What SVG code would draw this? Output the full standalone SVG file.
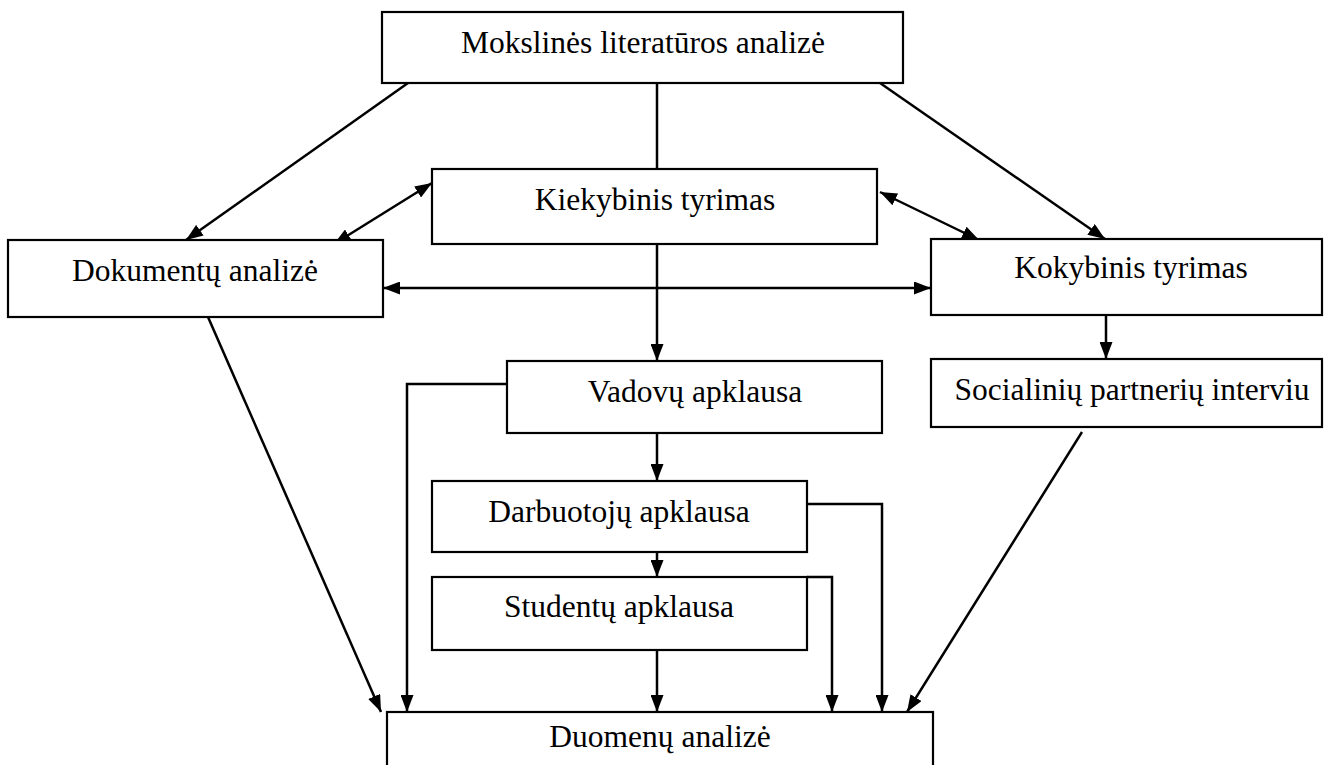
<svg xmlns="http://www.w3.org/2000/svg" width="1324" height="765" viewBox="0 0 1324 765">
  <defs>
    <marker id="arrow" viewBox="0 0 17 13" refX="17" refY="6.5" markerWidth="17" markerHeight="13" markerUnits="userSpaceOnUse" orient="auto-start-reverse">
      <path d="M0,0 L17,6.5 L0,13 Z" fill="#000"/>
    </marker>
    <style>
      .box { fill: #fff; stroke: #000; stroke-width: 2.2; }
      .lbl { font-family: "Liberation Serif", "Times New Roman", serif; font-size: 31.5px; fill: #000; text-anchor: middle; }
      .ln { fill: none; stroke: #000; stroke-width: 2.5; }
      .ar { fill: none; stroke: #000; stroke-width: 2.5; marker-end: url(#arrow); }
      .ar2 { fill: none; stroke: #000; stroke-width: 2.5; marker-start: url(#arrow); marker-end: url(#arrow); }
    </style>
  </defs>
  <rect width="1324" height="765" fill="#fff"/>

  <g id="connectors">
    <!-- from the literature analysis -->
    <line class="ar" x1="408" y1="83" x2="186" y2="240"/>
    <line class="ln" x1="657" y1="83" x2="657" y2="169"/>
    <line class="ar" x1="880" y1="83" x2="1105" y2="239"/>
    <!-- links between the three studies -->
    <line class="ar2" x1="432" y1="183" x2="334" y2="244"/>
    <line class="ar2" x1="880" y1="192" x2="979" y2="240"/>
    <line class="ar2" x1="383" y1="288" x2="931" y2="288"/>
    <!-- survey chain -->
    <line class="ar" x1="657" y1="244" x2="657" y2="361"/>
    <line class="ar" x1="657" y1="433" x2="657" y2="481"/>
    <line class="ar" x1="657" y1="552" x2="657" y2="577"/>
    <line class="ar" x1="1106" y1="313" x2="1106" y2="359"/>
    <!-- into data analysis -->
    <line class="ar" x1="208" y1="317" x2="381" y2="712"/>
    <polyline class="ar" points="507,384 407,384 407,712"/>
    <line class="ar" x1="657" y1="650" x2="657" y2="712"/>
    <polyline class="ar" points="807,577 832,577 832,712"/>
    <polyline class="ar" points="807,504 882,504 882,712"/>
    <line class="ar" x1="1082" y1="432" x2="907" y2="712"/>
  </g>

  <g id="n-literatura">
    <rect class="box" x="382" y="12" width="521" height="71"/>
    <text class="lbl" x="643" y="53">Mokslinės literatūros analizė</text>
  </g>
  <g id="n-kiekybinis">
    <rect class="box" x="432" y="169" width="445" height="75"/>
    <text class="lbl" x="655" y="210">Kiekybinis tyrimas</text>
  </g>
  <g id="n-dokumentu">
    <rect class="box" x="8" y="240" width="375" height="77"/>
    <text class="lbl" x="195" y="281">Dokumentų analizė</text>
  </g>
  <g id="n-kokybinis">
    <rect class="box" x="931" y="239" width="391" height="76"/>
    <text class="lbl" x="1131" y="278">Kokybinis tyrimas</text>
  </g>
  <g id="n-vadovu">
    <rect class="box" x="507" y="361" width="375" height="72"/>
    <text class="lbl" x="695" y="402">Vadovų apklausa</text>
  </g>
  <g id="n-socialiniu">
    <rect class="box" x="931" y="359" width="391" height="68"/>
    <text class="lbl" x="1132" y="400">Socialinių partnerių interviu</text>
  </g>
  <g id="n-darbuotoju">
    <rect class="box" x="432" y="481" width="375" height="71"/>
    <text class="lbl" x="619" y="522">Darbuotojų apklausa</text>
  </g>
  <g id="n-studentu">
    <rect class="box" x="432" y="577" width="375" height="73"/>
    <text class="lbl" x="619" y="617">Studentų apklausa</text>
  </g>
  <g id="n-duomenu">
    <!-- box runs past the lower edge of the page -->
    <rect class="box" x="387" y="712" width="546" height="60"/>
    <text class="lbl" x="660" y="747">Duomenų analizė</text>
  </g>
</svg>
